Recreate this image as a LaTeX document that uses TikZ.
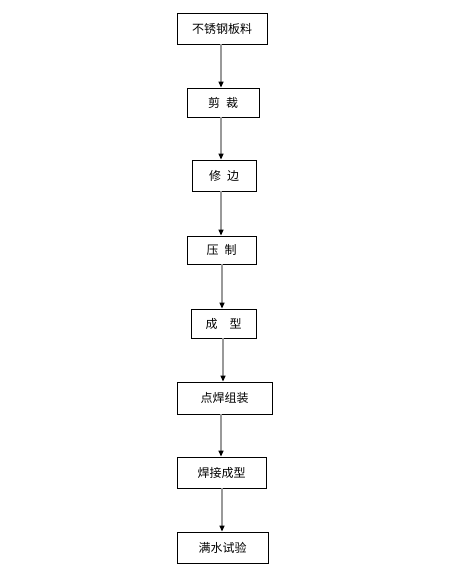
\documentclass[tikz,border=0pt]{standalone}
\usepackage{fontspec}
\newfontfamily\cjk{Noto Sans CJK SC}
\usepackage{tikz}
\usetikzlibrary{arrows.meta,positioning}
\tikzset{
  blk/.style  ={draw,line width=0.8pt,inner sep=0pt,font=\cjk\fontsize{12}{14}\selectfont},
  flow/.style ={-{Triangle[length=6pt,width=5pt,color=black]},draw=gray!80,line width=1.2pt},
}
\begin{document}
\begin{tikzpicture}[x=1pt,y=-1pt]
  \useasboundingbox[fill=white] (0,0) rectangle (467,572);
  \node[blk,minimum width=90pt,minimum height=31pt] (s1) at (222,28.5) {不锈钢板料\hspace{10pt}};
  \node[blk,minimum width=72pt,minimum height=29pt] (s2) at (223,102.5) {剪\hspace{6pt}裁};
  \node[blk,minimum width=64pt,minimum height=31pt] (s3) at (224,175.5) {修\hspace{6pt}边};
  \node[blk,minimum width=69pt,minimum height=28pt] (s4) at (221.5,250) {压\hspace{6pt}制};
  \node[blk,minimum width=65pt,minimum height=29pt] (s5) at (223.5,323.5) {成\hspace{12pt}型};
  \node[blk,minimum width=95pt,minimum height=32pt] (s6) at (224.5,398) {点焊组装};
  \node[blk,minimum width=89pt,minimum height=31pt] (s7) at (221.5,472.5) {焊接成型};
  \node[blk,minimum width=91pt,minimum height=31pt] (s8) at (222.5,547.5) {满水试验};
  \draw[flow] (s1.south) ++(-1,0) coordinate (a1) -- (a1 |- s2.north);
  \draw[flow] (s2.south) ++(-2,0) coordinate (a2) -- (a2 |- s3.north);
  \draw[flow] (s3.south) ++(-3,0) coordinate (a3) -- (a3 |- s4.north);
  \draw[flow] (s4.south) ++(0.5,0) coordinate (a4) -- (a4 |- s5.north);
  \draw[flow] (s5.south) ++(-0.5,0) coordinate (a5) -- (a5 |- s6.north);
  \draw[flow] (s6.south) ++(-3.5,0) coordinate (a6) -- (a6 |- s7.north);
  \draw[flow] (s7.south) ++(0.5,0) coordinate (a7) -- (a7 |- s8.north);
\end{tikzpicture}
\end{document}
